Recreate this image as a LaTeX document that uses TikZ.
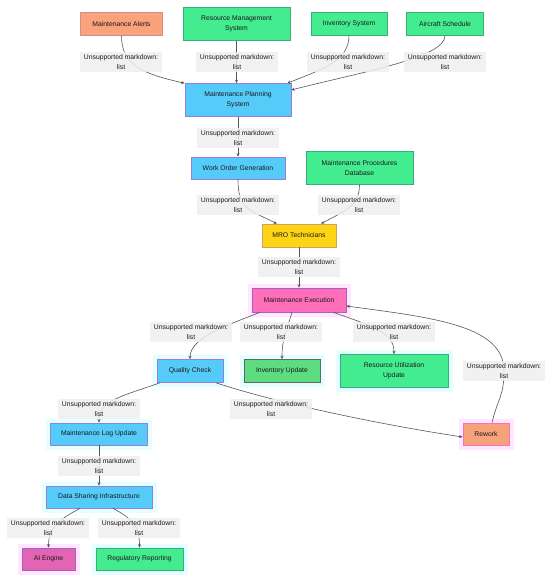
\documentclass[tikz,border=0pt]{standalone}
\usepackage{fontspec}
\setmainfont{Liberation Sans}
\usetikzlibrary{arrows.meta}

\definecolor{alertfill}{HTML}{F9A27C}
\definecolor{alertline}{HTML}{D98A8A}
\definecolor{sysfill}{HTML}{44EC90}
\definecolor{sysline}{HTML}{3AAE7A}
\definecolor{planfill}{HTML}{55CBFA}
\definecolor{planline}{HTML}{9C7BDB}
\definecolor{techfill}{HTML}{FFD414}
\definecolor{techline}{HTML}{C9A45A}
\definecolor{execfill}{HTML}{FF6EB8}
\definecolor{execline}{HTML}{A064C0}
\definecolor{updfill}{HTML}{5DDC80}
\definecolor{aifill}{HTML}{E464B4}
\definecolor{reworkfill}{HTML}{F6A27A}
\definecolor{labelfill}{HTML}{EFEFEF}
\definecolor{edgecol}{HTML}{555555}
\definecolor{cyanglow}{HTML}{E3FFFF}
\definecolor{pinkglow}{HTML}{FFE8FF}

\pgfdeclarelayer{edges}
\pgfdeclarelayer{labels}
\pgfsetlayers{main,edges,labels}

\newcommand{\mdlbl}{Unsupported markdown:\\list}

\begin{document}
\begin{tikzpicture}[x=1pt, y=-1pt,
  font=\fontsize{6.8}{10}\selectfont, text=black!90,
  box/.style={draw, line width=0.6pt, align=center, inner sep=1pt, minimum height=23pt},
  tallbox/.style={minimum height=33pt},
  alertbox/.style={box, fill=alertfill, draw=alertline},
  sysbox/.style={box, fill=sysfill, draw=sysline},
  planbox/.style={box, fill=planfill, draw=planline},
  techbox/.style={box, fill=techfill, draw=techline},
  execbox/.style={box, fill=execfill, draw=execline},
  updbox/.style={box, fill=updfill, draw=black!60},
  aibox/.style={box, fill=aifill, draw=execline},
  reworkbox/.style={box, fill=reworkfill, draw=execfill},
  cyanhalo/.style={preaction={draw=cyanglow, line width=9pt}},
  pinkhalo/.style={preaction={draw=pinkglow, line width=9pt}},
  edgelbl/.style={fill=labelfill, fill opacity=0.85, text opacity=1, align=center,
    minimum width=82pt, minimum height=20pt, inner sep=1pt},
  flow/.style={draw=edgecol, line width=0.6pt, -{Stealth[length=3.5pt,width=3pt]}}]

  \useasboundingbox (0,0) rectangle (550,576);

  % Inputs
  \node[alertbox, minimum width=82pt] (alerts) at (121.5,24) {Maintenance Alerts};
  \node[sysbox, tallbox, minimum width=107pt] (resmgmt) at (236.5,24) {Resource Management\\System};
  \node[sysbox, minimum width=76pt] (invsys) at (349,24) {Inventory System};
  \node[sysbox, minimum width=77pt] (aircraft) at (445,24) {Aircraft Schedule};

  % Planning chain
  \node[planbox, tallbox, minimum width=106pt] (planning) at (238,100) {Maintenance Planning\\System};
  \node[planbox, minimum width=94pt, minimum height=22pt] (workorder) at (238,168) {Work Order Generation};
  \node[sysbox, tallbox, minimum width=107pt] (procdb) at (359.5,168) {Maintenance Procedures\\Database};
  \node[techbox, minimum width=74pt] (mro) at (299,235.5) {MRO Technicians};
  \node[execbox, pinkhalo, minimum width=94pt, minimum height=24pt] (exec) at (299,300) {Maintenance Execution};

  % Results
  \node[planbox, cyanhalo, minimum width=66pt] (quality) at (190,371) {Quality Check};
  \node[updbox, cyanhalo, minimum width=76pt] (invupd) at (282,371) {Inventory Update};
  \node[sysbox, cyanhalo, tallbox, minimum width=108pt] (resutil) at (394,371) {Resource Utilization\\Update};
  \node[reworkbox, pinkhalo, minimum width=46pt, minimum height=22pt] (rework) at (486,434) {Rework};
  \node[planbox, cyanhalo, minimum width=97pt, minimum height=22pt] (maintlog) at (99,434) {Maintenance Log Update};
  \node[planbox, cyanhalo, minimum width=106pt, minimum height=22pt] (datashare) at (99,497) {Data Sharing Infrastructure};
  \node[aibox, pinkhalo, minimum width=53pt, minimum height=22pt] (aiengine) at (48.5,559) {AI Engine};
  \node[sysbox, cyanhalo, minimum width=87pt, minimum height=22pt] (regrep) at (139.5,559) {Regulatory Reporting};

  % Edge labels
  \begin{pgfonlayer}{labels}
    \node[edgelbl] (l-alerts) at (121,62) {\mdlbl};
    \node[edgelbl] (l-resmgmt) at (237,62) {\mdlbl};
    \node[edgelbl] (l-invsys) at (348,62) {\mdlbl};
    \node[edgelbl] (l-aircraft) at (445,62) {\mdlbl};
    \node[edgelbl] (l-planning) at (238,138) {\mdlbl};
    \node[edgelbl] (l-workorder) at (238,205) {\mdlbl};
    \node[edgelbl] (l-procdb) at (359,205) {\mdlbl};
    \node[edgelbl] (l-mro) at (299,267) {\mdlbl};
    \node[edgelbl] (l-quality) at (191,332) {\mdlbl};
    \node[edgelbl] (l-invupd) at (281,332) {\mdlbl};
    \node[edgelbl] (l-resutil) at (394,332) {\mdlbl};
    \node[edgelbl] (l-rework) at (504,371) {\mdlbl};
    \node[edgelbl] (l-maintlog) at (99,409) {\mdlbl};
    \node[edgelbl] (l-qcrework) at (271,409) {\mdlbl};
    \node[edgelbl] (l-datashare) at (99,466) {\mdlbl};
    \node[edgelbl] (l-ai) at (48,528) {\mdlbl};
    \node[edgelbl] (l-reg) at (139,528) {\mdlbl};
  \end{pgfonlayer}

  % Connectors
  \begin{pgfonlayer}{edges}
    \draw[flow] (alerts.south) .. controls +(0,28) and +(-45,-10) .. (planning.north west);
    \draw[flow] (resmgmt.south) -- (resmgmt.south |- planning.north);
    \draw[flow] (invsys.south) .. controls +(0,25) and +(35,-14) .. ([xshift=-4pt]planning.north east);
    \draw[flow] (aircraft.south) .. controls +(0,22) and +(70,-18) .. ([yshift=10pt]planning.east);
    \draw[flow] (planning) -- (workorder);
    \draw[flow] (workorder.south) .. controls +(0,30) and +(-28,-14) .. ([xshift=-22pt]mro.north);
    \draw[flow] (procdb.south) .. controls +(0,22) and +(22,-12) .. ([xshift=22pt]mro.north);
    \draw[flow] (mro) -- (exec);
    \draw[flow] ([xshift=-39pt]exec.south) .. controls +(-30,12) and +(0,-22) .. (quality.north);
    \draw[flow] ([xshift=-7pt]exec.south) .. controls +(-6,20) and +(0,-20) .. (invupd.north);
    \draw[flow] ([xshift=34pt]exec.south) .. controls +(40,14) and +(0,-22) .. (resutil.north);
    \draw[flow] ([xshift=6pt]rework.north) .. controls +(6,-25) and +(0,25) .. (l-rework.center)
      .. controls +(0,-45) and +(90,12) .. ([yshift=-6pt]exec.east);
    \draw[flow] ([xshift=-30pt]quality.south) .. controls +(-40,14) and +(0,-22) .. (maintlog.north);
    \draw[flow] ([xshift=26pt]quality.south) .. controls +(60,20) and +(-80,-12) .. ([yshift=-3pt]rework.west);
    \draw[flow] (maintlog) -- (datashare);
    \draw[flow] ([xshift=-19pt]datashare.south) .. controls +(-22,12) and +(0,-20) .. (aiengine.north);
    \draw[flow] ([xshift=14pt]datashare.south) .. controls +(22,12) and +(0,-20) .. (regrep.north);
  \end{pgfonlayer}
\end{tikzpicture}
\end{document}
